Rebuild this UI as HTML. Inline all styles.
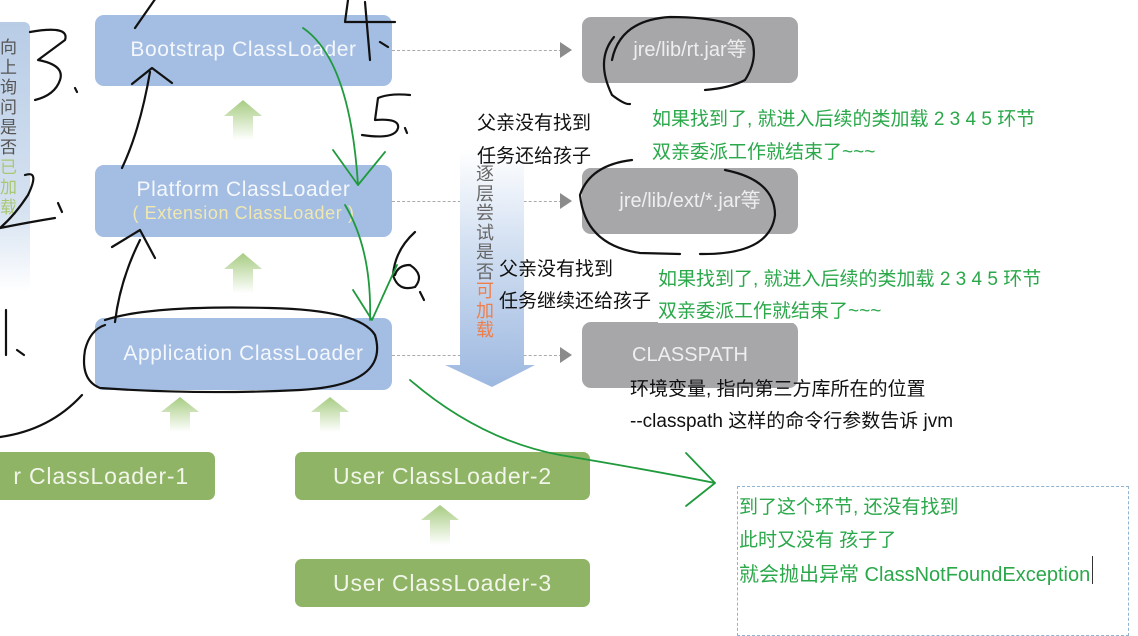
<!DOCTYPE html>
<html><head><meta charset="utf-8"><style>
*{margin:0;padding:0;box-sizing:border-box}
body{width:1138px;height:628px;overflow:hidden;background:#fff;position:relative;font-family:"Liberation Sans","Noto Sans CJK SC",sans-serif}
.a{position:absolute}
.blue{background:#a3bde3;border-radius:9px;color:#f4f7fc;text-align:center;font-size:21px;letter-spacing:0.6px;white-space:nowrap}
.grey{background:#a7a7aa;border-radius:9px;color:#eeeeee;text-align:center;font-size:20px;white-space:nowrap}
.green{background:#8fb466;border-radius:7px;color:#f2f6ea;text-align:center;font-size:23px;letter-spacing:0.8px;white-space:nowrap}
.t{position:absolute;font-size:19px;color:#111;white-space:nowrap;font-family:"Liberation Sans","Noto Sans CJK SC",sans-serif}
.g{color:#2aa84a}
.dash{position:absolute;border-top:1px dashed #aaa;height:0}
.tri{position:absolute;width:0;height:0;border-top:8px solid transparent;border-bottom:8px solid transparent;border-left:12px solid #8b8b8b}
</style></head><body>
<div class="a" style="left:0;top:22px;width:30px;height:270px;background:linear-gradient(#b8cce6,#d6e2f1 70%,#fff);border-top-right-radius:6px"></div>
<div class="a" style="left:0;top:36px;width:18px;font-size:17px;line-height:20px;color:#555;font-family:'Noto Sans CJK SC',sans-serif">向<br>上<br>询<br>问<br>是<br>否<br><span style="color:#a9c872">已</span><br><span style="color:#a9c872">加</span><br><span style="color:#a9c872">载</span></div>

<div class="a blue" style="left:95px;top:15px;width:297px;height:71px;line-height:70px">Bootstrap ClassLoader</div>
<div class="a blue" style="left:95px;top:165px;width:297px;height:72px;padding-top:13px;line-height:23px">Platform ClassLoader<br><span style="color:#f0e8b0;font-size:18px">( Extension ClassLoader )</span></div>
<div class="a blue" style="left:95px;top:318px;width:297px;height:72px;line-height:72px">Application ClassLoader</div>

<div class="a green" style="left:-20px;top:452px;width:235px;height:48px;line-height:48px;text-align:right;padding-right:26px">r ClassLoader-1</div>
<div class="a green" style="left:295px;top:452px;width:295px;height:48px;line-height:48px">User ClassLoader-2</div>
<div class="a green" style="left:295px;top:559px;width:295px;height:48px;line-height:48px">User ClassLoader-3</div>

<div class="a grey" style="left:582px;top:17px;width:216px;height:66px;line-height:66px">jre/lib/rt.jar等</div>
<div class="a grey" style="left:582px;top:168px;width:216px;height:66px;line-height:66px">jre/lib/ext/*.jar等</div>
<div class="a grey" style="left:582px;top:322px;width:216px;height:66px;line-height:66px">CLASSPATH</div>

<div class="dash" style="left:392px;top:50px;width:170px"></div><div class="tri" style="left:560px;top:42px"></div>
<div class="dash" style="left:392px;top:201px;width:170px"></div><div class="tri" style="left:560px;top:193px"></div>
<div class="dash" style="left:392px;top:355px;width:170px"></div><div class="tri" style="left:560px;top:347px"></div>

<svg class="a" style="left:440px;top:150px" width="100" height="240">
<defs><linearGradient id="vg" x1="0" y1="0" x2="0" y2="1"><stop offset="0" stop-color="#fff"/><stop offset="0.4" stop-color="#d3e0f2"/><stop offset="1" stop-color="#9db8e0"/></linearGradient></defs>
<path d="M20 0 H84 V215 H95 L52 237 L5 215 H20 Z" fill="url(#vg)"/>
</svg>
<div class="a" style="left:476px;top:164px;width:22px;font-size:18px;line-height:19.5px;color:#666;font-family:'Noto Sans CJK SC',sans-serif">逐<br>层<br>尝<br>试<br>是<br>否<br><span style="color:#ef7f4a">可</span><br><span style="color:#ef7f4a">加</span><br><span style="color:#ef7f4a">载</span></div>

<div class="t" style="left:477px;top:108px">父亲没有找到</div>
<div class="t" style="left:477px;top:141px">任务还给孩子</div>
<div class="t" style="left:499px;top:254px">父亲没有找到</div>
<div class="t" style="left:499px;top:286px">任务继续还给孩子</div>
<div class="t g" style="left:652px;top:104px;background:#fff">如果找到了, 就进入后续的类加载 2 3 4 5 环节</div>
<div class="t g" style="left:652px;top:137px">双亲委派工作就结束了~~~</div>
<div class="t g" style="left:658px;top:264px;background:#fff">如果找到了, 就进入后续的类加载 2 3 4 5 环节</div>
<div class="t g" style="left:658px;top:296px;background:#fff;padding-right:4px">双亲委派工作就结束了~~~</div>
<div class="t" style="left:630px;top:374px">环境变量, 指向第三方库所在的位置</div>
<div class="t" style="left:630px;top:406px">--classpath 这样的命令行参数告诉 jvm</div>

<div class="a" style="left:737px;top:486px;width:392px;height:150px;border:1px dashed #8fb3d0"></div>
<div class="t g" style="left:739px;top:492px">到了这个环节, 还没有找到</div>
<div class="t g" style="left:739px;top:525px">此时又没有 孩子了</div>
<div class="t g" style="left:739px;top:558px;font-size:20px">就会抛出异常 ClassNotFoundException</div>
<div class="a" style="left:1092px;top:556px;width:1px;height:28px;background:#333"></div>

<svg class="a" style="left:0;top:0" width="1138" height="628">
<defs><linearGradient id="ug" x1="0" y1="0" x2="0" y2="1"><stop offset="0" stop-color="#a7cc82"/><stop offset="1" stop-color="#fff"/></linearGradient></defs>
<g fill="url(#ug)">
<path d="M243 100 L262 116 H253 V140 H233 V116 H224 Z"/>
<path d="M243 253 L262 269 H253 V293 H233 V269 H224 Z"/>
<path d="M180 397 L199 412 H190 V432 H170 V412 H161 Z"/>
<path d="M330 397 L349 412 H340 V432 H320 V412 H311 Z"/>
<path d="M440 505 L459 520 H450 V545 H430 V520 H421 Z"/>
</g>
<g fill="none" stroke="#111" stroke-width="2.2" stroke-linecap="round" stroke-linejoin="round">
<path d="M30 32 Q70 25 65 40 L38 60 Q65 65 60 80 Q55 95 35 100"/>
<path d="M75 88 L77 92"/>
<path d="M25 175 Q40 170 28 195 Q15 215 0 228 Q30 222 55 218"/>
<path d="M58 203 L62 212"/>
<path d="M6 310 V355"/><path d="M17 350 L24 355"/>
<path d="M82 395 Q50 430 0 437"/>
<path d="M115 322 Q120 280 140 240"/><path d="M112 247 L140 230 L155 258"/>
<path d="M122 168 Q140 130 150 72"/><path d="M132 84 L152 68 L172 83"/>
<path d="M135 28 L158 -5"/>
<path d="M348 0 L345 22 H395"/><path d="M365 2 L370 60"/><path d="M380 42 L388 47"/>
<path d="M410 95 Q390 93 378 98 L375 120 Q400 118 398 128 Q395 140 362 135"/><path d="M405 128 L407 133"/>
<path d="M415 232 Q395 250 393 275 Q398 292 415 287 Q425 275 410 265 Q398 265 395 275"/><path d="M420 292 L424 300"/>
<path d="M614 37 Q595 60 612 95 Q625 105 630 104"/><path d="M612 60 Q620 20 670 17 Q740 17 752 40 Q758 60 745 80 Q730 88 705 90"/>
<path d="M632 160 Q590 165 580 195 Q585 245 640 253 L680 254"/><path d="M700 254 Q770 255 775 215 Q775 180 725 170"/>
<path d="M105 320 Q150 305 270 308 Q360 310 375 335 Q390 385 300 390 Q200 395 100 388 Q80 380 85 350 Q90 330 105 325"/>
</g>
<g fill="none" stroke="#1f9a3c" stroke-width="1.8" stroke-linecap="round" stroke-linejoin="round">
<path d="M303 28 Q350 60 358 185"/><path d="M333 150 L358 185 L385 152"/>
<path d="M345 205 Q372 250 370 320"/><path d="M353 290 L372 320 L397 265"/>
<path d="M410 380 Q480 440 560 455 Q650 470 715 483"/><path d="M686 453 L715 483 L686 506"/>
</g>
</svg>
</body></html>
